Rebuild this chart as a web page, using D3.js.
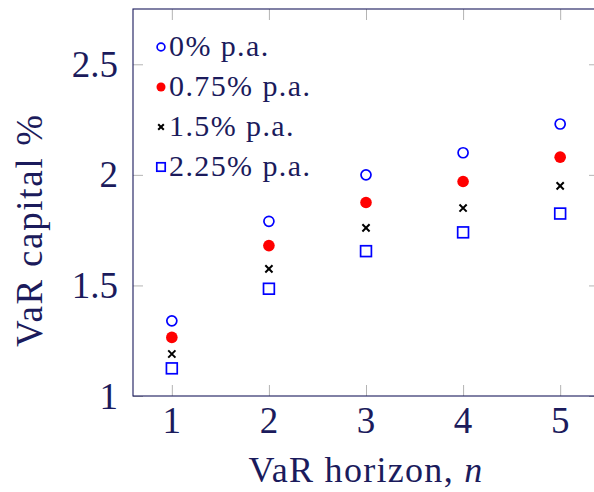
<!DOCTYPE html>
<html>
<head>
<meta charset="utf-8">
<script src="https://cdn.jsdelivr.net/npm/d3@7"></script>
<style>
  body { margin: 0; background: #fff; }
  svg { display: block; }
  text { font-family: 'Liberation Serif', 'Times New Roman', serif; fill: #1b1b5c; }
</style>
</head>
<body>
<div id="chart"></div>
<script>
// VaR horizon n = 1..5, one series per growth rate
const horizons = [1, 2, 3, 4, 5];
const rate0 = [1.34, 1.79, 2.00, 2.10, 2.23];
const rate075 = [1.265, 1.68, 1.875, 1.97, 2.08];
const rate15 = [1.19, 1.575, 1.76, 1.85, 1.95];
const rate225 = [1.125, 1.485, 1.655, 1.74, 1.825];
const seriesLabels = ['0% p.a.', '0.75% p.a.', '1.5% p.a.', '2.25% p.a.'];
const yTicks = [1, 1.5, 2, 2.5];

const width = 594, height = 492;
const margin = { top: 9, right: -5, bottom: 96, left: 133 };
const navy = '#1b1b5c';
const tickGray = '#b4b4b4';

const svg = d3.select('#chart').append('svg')
  .attr('width', width)
  .attr('height', height);

const x = d3.scaleLinear()
  .domain([0.6, 5.4])
  .range([margin.left, width - margin.right]);

const y = d3.scaleLinear()
  .domain([1, 2.75])
  .range([height - margin.bottom, margin.top]);

const series = [
  { label: seriesLabels[0], values: rate0, mark: 'circle' },
  { label: seriesLabels[1], values: rate075, mark: 'dot' },
  { label: seriesLabels[2], values: rate15, mark: 'cross' },
  { label: seriesLabels[3], values: rate225, mark: 'square' }
];

// draws one marker into a group already translated to its centre
function drawMark(g, mark, s) {
  if (mark === 'circle') {
    g.append('circle').attr('r', 5 * s)
      .attr('fill', 'none').attr('stroke', '#0000ff').attr('stroke-width', 1.7);
  } else if (mark === 'dot') {
    g.append('circle').attr('r', 5.8 * s).attr('fill', '#ff0000');
  } else if (mark === 'cross') {
    const h = 3.6 * s;
    g.append('path')
      .attr('d', `M${-h},${-h}L${h},${h}M${-h},${h}L${h},${-h}`)
      .attr('stroke', '#000').attr('stroke-width', 2);
  } else {
    const h = 5.4 * s;
    g.append('rect')
      .attr('x', -h).attr('y', -h).attr('width', 2 * h).attr('height', 2 * h)
      .attr('fill', 'none').attr('stroke', '#0000ff').attr('stroke-width', 1.7);
  }
}

// ticks, mirrored on all four sides and pointing inwards
const x0 = x.range()[0], x1 = x.range()[1];
const y0 = y.range()[0], y1 = y.range()[1];

svg.append('g')
  .attr('transform', `translate(0,${y0})`)
  .call(d3.axisTop(x).tickValues(horizons).tickSize(11).tickFormat(''))
  .call(g => g.select('.domain').remove())
  .call(g => g.selectAll('line').attr('stroke', tickGray));

svg.append('g')
  .attr('transform', `translate(0,${y1})`)
  .call(d3.axisBottom(x).tickValues(horizons).tickSize(11).tickFormat(''))
  .call(g => g.select('.domain').remove())
  .call(g => g.selectAll('line').attr('stroke', tickGray));

svg.append('g')
  .attr('transform', `translate(${x0},0)`)
  .call(d3.axisRight(y).tickValues(yTicks).tickSize(10).tickFormat(''))
  .call(g => g.select('.domain').remove())
  .call(g => g.selectAll('line').attr('stroke', tickGray));

svg.append('g')
  .attr('transform', `translate(${x1},0)`)
  .call(d3.axisLeft(y).tickValues(yTicks).tickSize(10).tickFormat(''))
  .call(g => g.select('.domain').remove())
  .call(g => g.selectAll('line').attr('stroke', tickGray));

// frame
svg.append('rect')
  .attr('x', x0).attr('y', y1)
  .attr('width', x1 - x0).attr('height', y0 - y1)
  .attr('fill', 'none').attr('stroke', navy).attr('stroke-width', 1.1);

// tick labels
svg.append('g')
  .selectAll('text')
  .data(horizons)
  .join('text')
  .attr('x', d => x(d))
  .attr('y', y0 + 37)
  .attr('text-anchor', 'middle')
  .style('font-size', '37px')
  .text(d => d);

svg.append('g')
  .selectAll('text')
  .data(yTicks)
  .join('text')
  .attr('x', x0 - 15)
  .attr('y', d => y(d) + 12.6)
  .attr('text-anchor', 'end')
  .style('font-size', '37px')
  .text(d => String(d));

// axis titles
const xTitle = svg.append('text')
  .attr('x', (x0 + x1) / 2)
  .attr('y', 482)
  .attr('text-anchor', 'middle')
  .style('font-size', '36px')
  .style('letter-spacing', '1.3px');
xTitle.append('tspan').text('VaR horizon, ');
xTitle.append('tspan').style('font-style', 'italic').text('n');

svg.append('text')
  .attr('transform', 'translate(42,230) rotate(-90)')
  .attr('text-anchor', 'middle')
  .style('font-size', '37px')
  .style('letter-spacing', '1.7px')
  .text('VaR capital %');

// data marks
series.forEach(s => {
  svg.append('g')
    .selectAll('g')
    .data(s.values.map((v, i) => [horizons[i], v]))
    .join('g')
    .attr('transform', d => `translate(${x(d[0])},${y(d[1])})`)
    .each(function() { drawMark(d3.select(this), s.mark, 1); });
});

// legend
const legend = svg.append('g').attr('transform', 'translate(161,47)');
series.forEach((s, i) => {
  const row = legend.append('g').attr('transform', `translate(0,${i * 40})`);
  drawMark(row.append('g'), s.mark, 0.78);
  row.append('text')
    .attr('x', 8)
    .attr('y', 8.5)
    .style('font-size', '30px')
    .style('letter-spacing', '1.4px')
    .text(s.label);
});
</script>
</body>
</html>
